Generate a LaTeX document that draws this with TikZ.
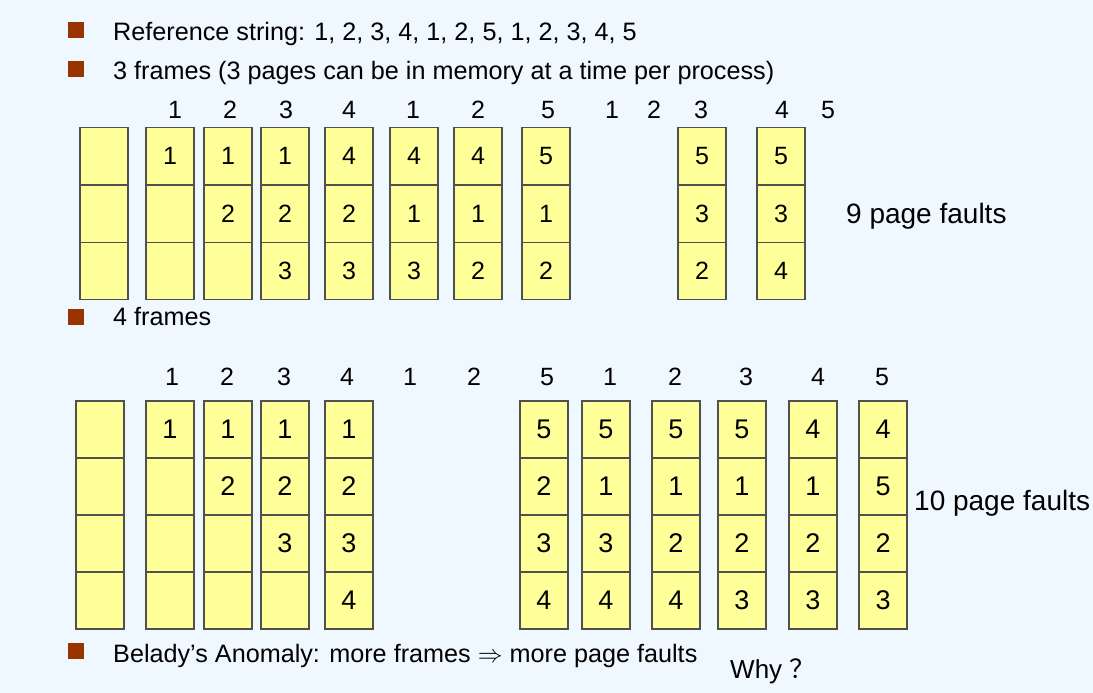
\documentclass[tikz,border=0pt]{standalone}
\usepackage{fontspec}
\setmainfont{Liberation Sans}
\newfontfamily\cjk{Noto Sans CJK SC}
\usetikzlibrary{positioning}
\definecolor{slidebg}{RGB}{240,248,255}
\definecolor{cellfill}{RGB}{255,255,153}
\definecolor{cellline}{RGB}{80,80,80}
\definecolor{bulletred}{RGB}{153,51,0}

\begin{document}
\begin{tikzpicture}[x=1pt, y=-1pt,
    cell/.style={rectangle, draw=cellline, fill=cellfill, line width=1.3pt, minimum width=48pt, minimum height=57.5pt, inner sep=0pt, outer sep=0pt, font=\fontsize{25}{25}\selectfont},
    cellb/.style={cell, minimum height=57pt, font=\fontsize{27}{27}\selectfont},
    rowline/.style={draw=cellline, line width=1.5pt},
    bullet/.style={rectangle, fill=bulletred, minimum size=16pt, inner sep=0pt},
    line/.style={anchor=base west, inner sep=0pt, font=\fontsize{25.2}{25}\selectfont},
    refnum/.style={anchor=base, inner sep=0pt, font=\fontsize{25}{25}\selectfont},
    faults/.style={anchor=base west, inner sep=0pt, font=\fontsize{28}{28}\selectfont}]
    \fill[slidebg] (0,0) rectangle (1093,693);
    \useasboundingbox (0,0) rectangle (1093,693);

    % bullets and text lines
    \node[bullet] (b1) at (75.5,30.5) {};
    \node[line] (l1) at (113,41) {Reference string: 1, 2, 3, 4, 1, 2, 5, 1, 2, 3, 4, 5};
    \node[bullet] (b2) at (75.5,69.5) {};
    \node[line] (l2) at (113,80) {3 frames (3 pages can be in memory at a time per process)};
    \node[bullet] (b3) at (75.5,316.5) {};
    \node[line] (l3) at (113,325) {4 frames};
    \node[bullet] (b4) at (75.5,650.5) {};
    \node[line] (l4) at (113,662) {Belady’s Anomaly: more frames $\Rightarrow$ more page faults};
    \node[faults, font=\fontsize{26}{26}\selectfont] (why) at (730,678) {Why \cjk{？}};

    % 3 frames
    \foreach \x/\p in {175/1, 230/2, 286/3, 349/4, 413/1, 478/2, 548/5, 612/1, 654/2, 701/3, 782/4, 828/5}
        \node[refnum] (tr\x) at (\x,118) {\p};
    \foreach \x/\a/\b/\c [count=\i] in {80/{}/{}/{}, 146/1/{}/{}, 204/1/2/{}, 261/1/2/3, 325/4/2/3, 390/4/1/3, 454/4/1/2, 522/5/1/2, 678/5/3/2, 757/5/3/4} {
        \node[cell] (t\i-1) at (\x+24,156) {\a};
        \node[cell] (t\i-2) [below=0pt of t\i-1] {\b};
        \node[cell] (t\i-3) [below=0pt of t\i-2] {\c};
        \draw[rowline] (t\i-1.south west) -- (t\i-1.south east)
                       (t\i-2.south west) -- (t\i-2.south east);
    }
    \node[faults] (f3) at (846,223) {9 page faults};

    % 4 frames
    \foreach \x/\p in {172/1, 227/2, 284/3, 347/4, 410/1, 474/2, 547/5, 610/1, 675/2, 746/3, 818/4, 882/5}
        \node[refnum] (br\x) at (\x,385) {\p};
    \foreach \x/\a/\b/\c/\d [count=\i] in {76/{}/{}/{}/{}, 146/1/{}/{}/{}, 204/1/2/{}/{}, 261/1/2/3/{}, 325/1/2/3/4, 520/5/2/3/4, 582/5/1/3/4, 652/5/1/2/4, 718/5/1/2/3, 789/4/1/2/3, 859/4/5/2/3} {
        \node[cellb] (q\i-1) at (\x+24,429.5) {\a};
        \node[cellb] (q\i-2) [below=0pt of q\i-1] {\b};
        \node[cellb] (q\i-3) [below=0pt of q\i-2] {\c};
        \node[cellb] (q\i-4) [below=0pt of q\i-3] {\d};
        \draw[rowline] (q\i-1.south west) -- (q\i-1.south east)
                       (q\i-2.south west) -- (q\i-2.south east)
                       (q\i-3.south west) -- (q\i-3.south east);
    }
    \node[faults] (f4) at (914,510) {10 page faults};
\end{tikzpicture}
\end{document}
